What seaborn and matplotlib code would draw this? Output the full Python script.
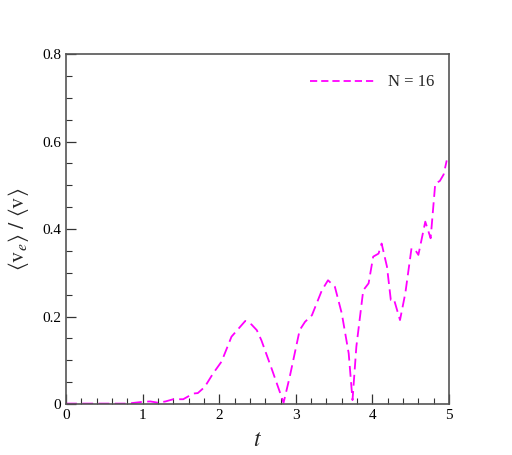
import numpy as np
import pandas as pd
import matplotlib
matplotlib.use("Agg")
import matplotlib.pyplot as plt
import seaborn as sns
from matplotlib.ticker import MultipleLocator

# ratio of <v_e>/<v> against time
t_vals = [0.0, 0.2, 0.4, 0.6, 0.8, 1.0, 1.1, 1.2, 1.3, 1.4, 1.53, 1.6,
          1.66, 1.72, 1.81, 1.92, 2.03, 2.16, 2.25, 2.34, 2.42, 2.49, 2.55,
          2.69, 2.84, 2.92, 3.05, 3.12, 3.21, 3.34, 3.42, 3.51, 3.60, 3.69,
          3.74, 3.79, 3.88, 3.95, 4.01, 4.08, 4.12, 4.19, 4.24, 4.28, 4.36,
          4.43, 4.51, 4.56, 4.60, 4.69, 4.76, 4.82, 4.88, 4.93, 4.97]
ratio_vals = [0.001, 0.001, 0.001, 0.001, 0.001, 0.005, 0.006, 0.003, 0.006,
              0.011, 0.011, 0.018, 0.024, 0.025, 0.039, 0.070, 0.097, 0.154,
              0.172, 0.190, 0.182, 0.169, 0.146, 0.078, 0.003, 0.062, 0.169,
              0.188, 0.203, 0.260, 0.283, 0.268, 0.207, 0.116, 0.009, 0.131,
              0.260, 0.276, 0.337, 0.344, 0.367, 0.314, 0.238, 0.240, 0.192,
              0.254, 0.356, 0.352, 0.341, 0.417, 0.379, 0.504, 0.510, 0.525,
              0.557]
series_label = "N = 16"

df = pd.DataFrame({"t": t_vals, "ratio": ratio_vals})

sns.set_style("ticks")
plt.rcParams["font.family"] = ["Liberation Serif", "DejaVu Serif"]
plt.rcParams["mathtext.fontset"] = "stix"

fig = plt.figure(figsize=(5.12, 4.55), dpi=100)
ax = fig.add_axes([0.129, 0.112, 0.748, 0.769])

sns.lineplot(data=df, x="t", y="ratio", ax=ax, color="#ff00ff",
             linewidth=1.3, label=series_label)
ax.lines[0].set_dashes([6, 3])

ax.set_xlim(0, 5)
ax.set_ylim(0, 0.8)
ax.xaxis.set_major_locator(MultipleLocator(1))
ax.xaxis.set_minor_locator(MultipleLocator(0.2))
ax.yaxis.set_major_locator(MultipleLocator(0.2))
ax.yaxis.set_minor_locator(MultipleLocator(0.05))
ax.set_yticks([0, 0.2, 0.4, 0.6, 0.8])
ax.set_yticklabels(["0", "0.2", "0.4", "0.6", "0.8"])

ax.tick_params(which="major", direction="in", length=7, width=0.9,
               labelsize=11, colors="#333333", labelcolor="black")
ax.tick_params(which="minor", direction="in", length=4, width=0.8,
               colors="#333333")
for sp in ax.spines.values():
    sp.set_color("#555555")
    sp.set_linewidth(1.2)

ax.set_xlabel("$t$", fontsize=17, labelpad=6)
ax.set_ylabel(r"$\langle \mathrm{v}_e \rangle\ /\ \langle \mathrm{v} \rangle$",
              fontsize=16, labelpad=8)

leg = ax.legend(loc="upper right", frameon=False, fontsize=12,
                handlelength=3.9, handletextpad=0.75,
                bbox_to_anchor=(1.0, 0.985))
for h in leg.get_lines():
    h.set_dashes([4, 2.2])

fig.savefig("out.png", dpi=100)
